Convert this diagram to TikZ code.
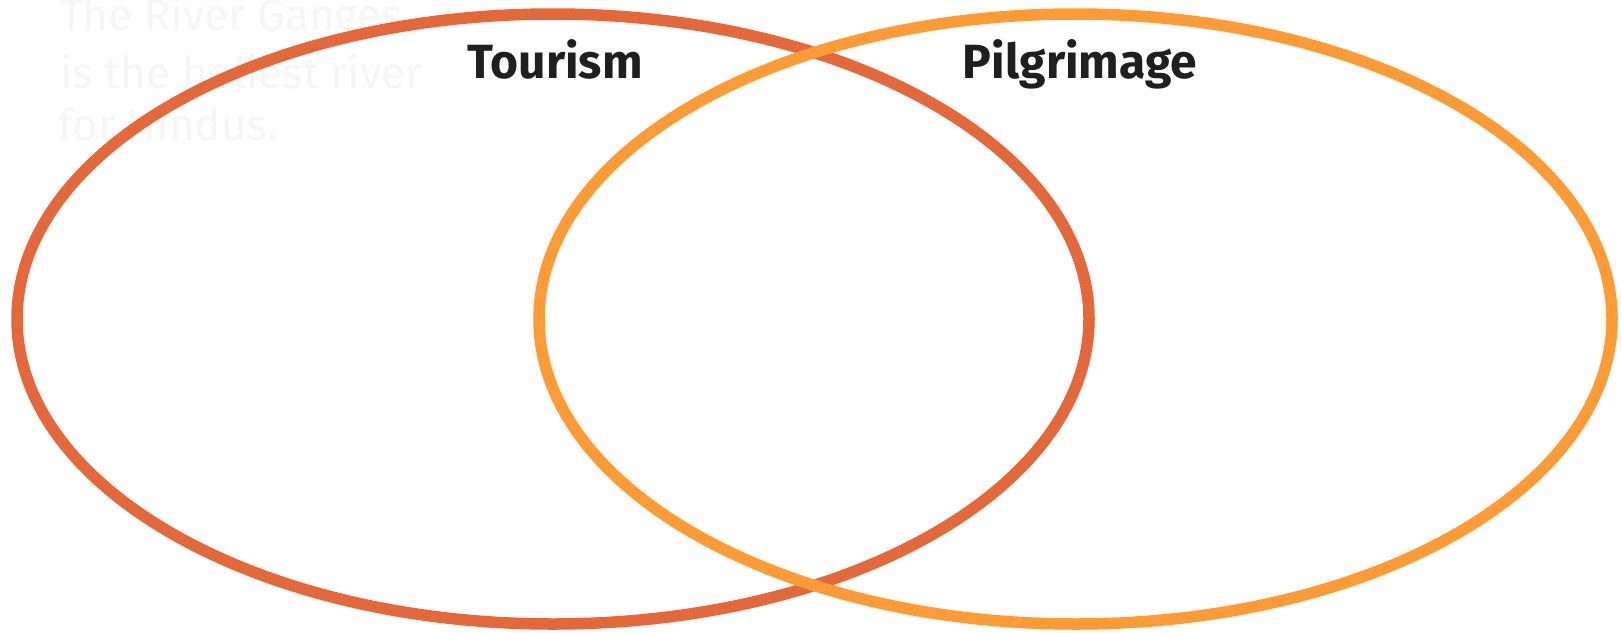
\documentclass[tikz,border=0pt]{standalone}
\usepackage{fontspec}
\setmainfont{Fira Sans}
\definecolor{tourismc}{RGB}{229,104,58}
\definecolor{pilgrimc}{RGB}{255,155,52}
\definecolor{ghostc}{RGB}{246,246,246}
\begin{document}
\begin{tikzpicture}[x=1pt,y=-1pt,
  ring/.style={line width=11.5pt},
  heading/.style={font=\fontsize{48}{56}\selectfont\bfseries, text=black!88, inner sep=0pt, anchor=base},
  ghost/.style={font=\fontsize{44}{52}\selectfont, text=ghostc, inner sep=0pt, anchor=base west}]
\fill[white] (0,0) rectangle (1622,632);
\useasboundingbox (0,0) rectangle (1622,632);
\node[ghost] (g1) at (60,30) {The River Ganges};
\node[ghost] (g2) at (60,88) {is the holiest river};
\node[ghost] (g3) at (58,140) {for Hindus.};
\draw[ring, tourismc] (553,319) ellipse [x radius=536, y radius=305];
\draw[ring, pilgrimc] (1075.5,319) ellipse [x radius=536.5, y radius=305];
\node[heading] (tourism) at (555,78) {Tourism};
\node[heading] (pilgrimage) at (1080,78) {Pilgrimage};
\end{tikzpicture}
\end{document}
